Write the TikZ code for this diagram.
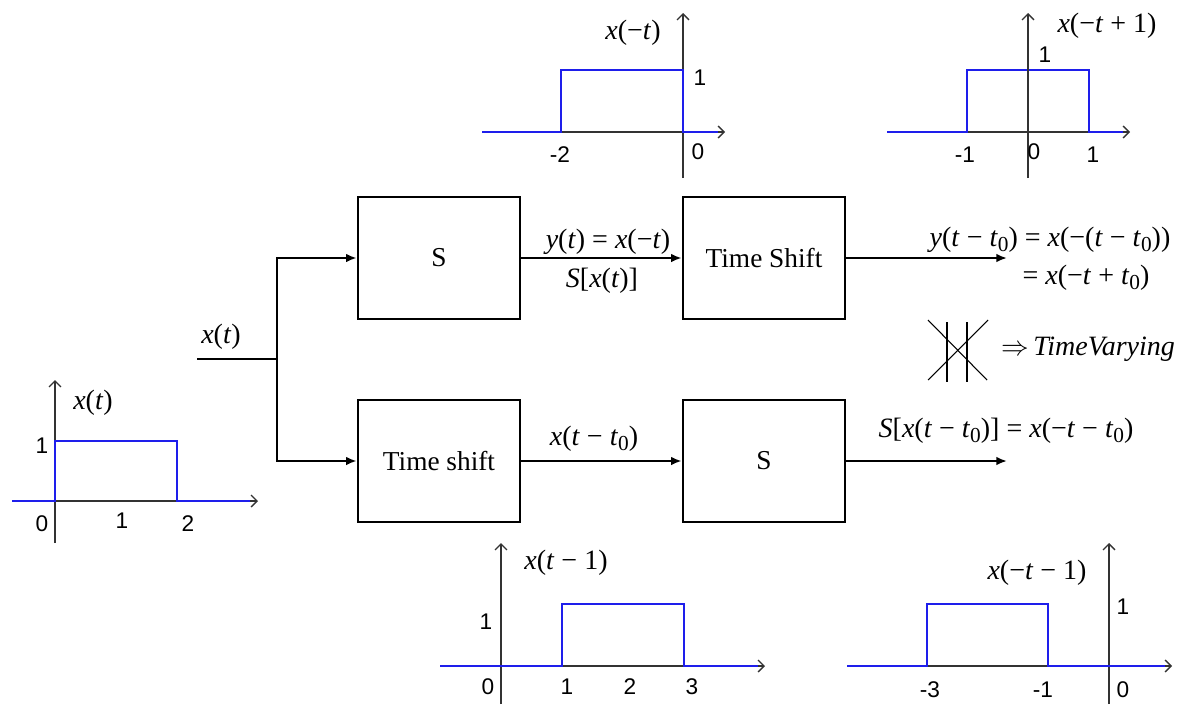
\documentclass[tikz,border=0pt]{standalone}
\usepackage{fontspec}
\setmainfont{Liberation Serif}
\newfontfamily\numfont{Liberation Sans}
\usetikzlibrary{arrows.meta}
\newcommand\vi[1]{\textit{#1}}
\newcommand\zsub{\raisebox{-0.35ex}{\fontsize{16}{16}\selectfont 0}}
\newcommand\tz{\vi{t}\zsub}
\begin{document}
\begin{tikzpicture}[x=0.75pt,y=-0.75pt,
  axis/.style={draw=black!80,line width=1.4pt,-{Straight Barb[length=4.5pt,width=9pt,line width=1pt]}},
  sig/.style={draw={rgb,255:red,30;green,30;blue,235},line width=1.5pt},
  num/.style={font=\numfont\fontsize{17}{17}\selectfont,inner sep=0pt},
  lab/.style={font=\fontsize{21}{23}\selectfont,inner sep=0pt},
  blk/.style={draw,line width=1.5pt,minimum width=122pt,minimum height=91.5pt,inner sep=0pt,font=\fontsize{20.5}{23}\selectfont},
  conn/.style={draw,line width=1.5pt,-{Latex[length=8pt,width=6.5pt]}},
  thin/.style={draw,line width=0.8pt}]
\useasboundingbox (0,0) rectangle (1179,704);

% ---------- left plot x(t)
\draw[axis] (55,543) -- (55,380);
\draw[axis] (12,501) -- (258,501);
\draw[sig] (12,501) -- (55,501) -- (55,441) -- (177,441) -- (177,501) -- (250,501);
\node[lab] (lxt) at (93,403) {\vi{x}(\vi{t})};
\node[num] (l1) at (42,446) {1};
\node[num] (l0) at (42,524) {0};
\node[num] (l1b) at (122,521) {1};
\node[num] (l2) at (188,524) {2};

% ---------- top middle x(-t)
\draw[axis] (683,178) -- (683,13);
\draw[axis] (482,132) -- (725,132);
\draw[sig] (482,132) -- (561,132) -- (561,70) -- (683,70) -- (683,132) -- (718,132);
\node[lab] (tmx) at (633,33) {\vi{x}(−\vi{t})};
\node[num] (tm1) at (700,78) {1};
\node[num] (tm2) at (560,155) {-2};
\node[num] (tm0) at (698,152) {0};

% ---------- top right x(-t+1)
\draw[axis] (1028,178) -- (1028,13);
\draw[axis] (887,132) -- (1130,132);
\draw[sig] (887,132) -- (967,132) -- (967,70) -- (1089,70) -- (1089,132) -- (1123,132);
\draw[draw=black!80,line width=1.4pt] (1028,132) -- (1028,60);
\node[lab] (trx) at (1107,26) {\vi{x}(−\vi{t} + 1)};
\node[num] (tr1) at (1045,55) {1};
\node[num] (trm1) at (965,155) {-1};
\node[num] (tr0) at (1034,152) {0};
\node[num] (tr1b) at (1093,155) {1};

% ---------- bottom middle x(t-1)
\draw[axis] (501,704) -- (501,543);
\draw[axis] (440,666) -- (765,666);
\draw[sig] (440,666) -- (562,666) -- (562,604) -- (684,604) -- (684,666) -- (758,666);
\node[lab] (bmx) at (566,563) {\vi{x}(\vi{t} − 1)};
\node[num] (bm1) at (486,622) {1};
\node[num] (bm0) at (488,687) {0};
\node[num] (bma) at (567,687) {1};
\node[num] (bmb) at (630,687) {2};
\node[num] (bmc) at (692,687) {3};

% ---------- bottom right x(-t-1)
\draw[axis] (1109,704) -- (1109,543);
\draw[axis] (847,666) -- (1172,666);
\draw[sig] (847,666) -- (927,666) -- (927,604) -- (1048,604) -- (1048,666) -- (1165,666);
\node[lab] (brx) at (1037,573) {\vi{x}(−\vi{t} − 1)};
\node[num] (br1) at (1123,607) {1};
\node[num] (brm3) at (930,690) {-3};
\node[num] (brm1) at (1043,690) {-1};
\node[num] (br0) at (1123,690) {0};

% ---------- block diagram
\node[blk] (s1) at (439,258) {S};
\node[blk] (ts1) at (764,258) {Time Shift};
\node[blk] (ts2) at (439,461) {Time shift};
\node[blk] (s2) at (764,461) {S};

\coordinate (in) at (197,359);
\coordinate (br) at (277,359);
\coordinate (o1) at (1007,258);
\coordinate (o2) at (1007,461);

\draw[line width=1.5pt] (in) -- (br);
\draw[conn] (br) |- (s1.west);
\draw[conn] (br) |- (ts2.west);
\draw[conn] (s1.east) -- (ts1.west);
\draw[conn] (ts2.east) -- (s2.west);
\draw[conn] (ts1.east) -- (o1);
\draw[conn] (s2.east) -- (o2);

\node[lab] (xin) at (221,337) {\vi{x}(\vi{t})};
\node[lab] (yt) at (608,242) {\vi{y}(\vi{t}) = \vi{x}(−\vi{t})};
\node[lab] (sxt) at (602,281) {\vi{S}[\vi{x}(\vi{t})]};
\node[lab] (xtt0) at (594,439) {\vi{x}(\vi{t} − \tz)};
\node[lab] (ytt0) at (1050,240) {\vi{y}(\vi{t} − \tz) = \vi{x}(−(\vi{t} − \tz))};
\node[lab] (eq2) at (1086,278) {= \vi{x}(−\vi{t} + \tz)};
\node[lab] (sxt0) at (1006,431) {\vi{S}[\vi{x}(\vi{t} − \tz)] = \vi{x}(−\vi{t} − \tz)};
\node[lab] (tv) at (1088,349) {$\Rightarrow$\,\vi{TimeVarying}};

% cross symbol
\draw[thin] (928,320) -- (987,380);
\draw[thin] (988,320) -- (928,380);
\draw[thin] (947,322) -- (947,382);
\draw[thin] (967,322) -- (967,382);
\end{tikzpicture}
\end{document}
